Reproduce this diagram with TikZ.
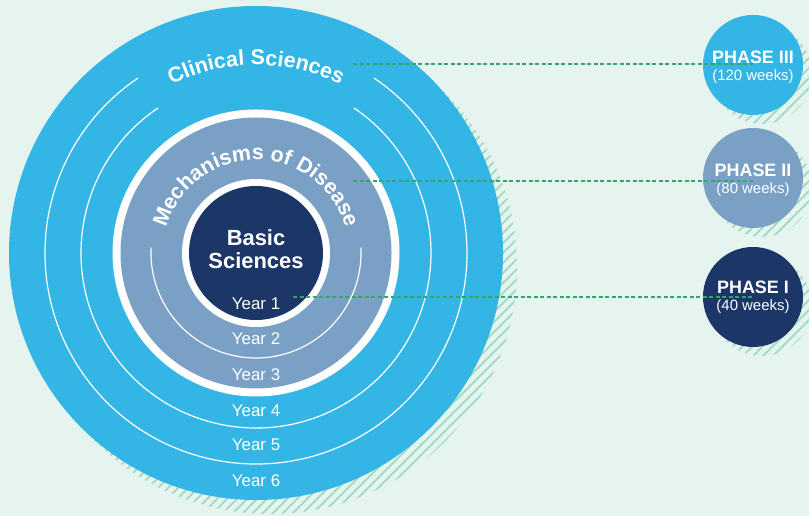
\documentclass[tikz,border=0pt]{standalone}
\usepackage{fontspec}
\setmainfont{Liberation Sans}
\usetikzlibrary{decorations.text}
\definecolor{bg}{HTML}{E5F4EF}
\definecolor{cblue}{HTML}{33B5E5}
\definecolor{cgray}{HTML}{7AA0C6}
\definecolor{cnavy}{HTML}{1B3667}
\definecolor{hatchgreen}{HTML}{A3DCC6}
\definecolor{dashgreen}{HTML}{37A56A}
\begin{document}
\begin{tikzpicture}[x=1bp,y=1bp,
  thinarc/.style={white, line width=1.2bp},
  hatchline/.style={hatchgreen, line width=1.8bp},
  dashline/.style={dashgreen, line width=1.1bp, dash pattern=on 4bp off 2.5bp},
  yearlbl/.style={text=white, inner sep=0pt, font=\fontsize{17}{17}\selectfont},
  phasebox/.style={circle, minimum size=100bp, inner sep=0pt},
  phasetitle/.style={text=white, inner sep=0pt, font=\bfseries\fontsize{18}{18}\selectfont},
  phaseweeks/.style={text=white, inner sep=0pt, font=\fontsize{15}{15}\selectfont},
]
\fill[bg] (0,0) rectangle (809,516);
\useasboundingbox (0,0) rectangle (809,516);
\coordinate (C) at (256,263);

% hatched shadows
\begin{scope}
  \clip ([shift={(14,-14)}]C) circle[radius=247bp];
  \foreach \i in {-360,-350,...,400} \draw[hatchline] (\i,0) -- ++(560,560);
\end{scope}
\foreach \yy in {451,338,219}{
  \begin{scope}
    \clip (762,\yy-9) circle[radius=50bp];
    \foreach \i in {-100,-90,...,120} \draw[hatchline] (762+\i,\yy-80) -- ++(160,160);
  \end{scope}
}

% concentric circles
\fill[cblue] (C) circle[radius=247bp];
\draw[thinarc] ([shift={(124:211bp)}]C) arc[start angle=124, end angle=416, radius=211bp];
\draw[thinarc] ([shift={(124:175bp)}]C) arc[start angle=124, end angle=416, radius=175bp];
\fill[white] (C) circle[radius=143.5bp];
\fill[cgray] (C) circle[radius=135.5bp];
\draw[thinarc] ([shift={(177:105bp)}]C) arc[start angle=177, end angle=363, radius=105bp];
\fill[white] (C) circle[radius=74bp];
\fill[cnavy] (C) circle[radius=67bp];

% curved titles
\path[decorate, decoration={text along path, text align=center, text color=white,
  text={|\bfseries\fontsize{21.5}{22}\selectfont|Clinical Sciences}}]
  ([shift={(160:188bp)}]C) arc[start angle=160, end angle=20, radius=188bp];
\path[decorate, decoration={text along path, text align=center, text color=white,
  text={|\bfseries\fontsize{21.5}{22}\selectfont|Mechanisms of Disease}}]
  ([shift={(180:93bp)}]C) arc[start angle=180, end angle=0, radius=93bp];

\node[text=white, align=center, font=\bfseries\fontsize{22}{23}\selectfont] (basic) at (256,267) {Basic\\Sciences};

% year labels
\node[yearlbl] (y1) at (256,212) {Year 1};
\node[yearlbl] (y2) at (256,177) {Year 2};
\node[yearlbl] (y3) at (256,141) {Year 3};
\node[yearlbl] (y4) at (256,105) {Year 4};
\node[yearlbl] (y5) at (256,71) {Year 5};
\node[yearlbl] (y6) at (256,35) {Year 6};

% phase circles
\node[phasebox, fill=cblue] (p3) at (753,451) {};
\node[phasebox, fill=cgray] (p2) at (753,338) {};
\node[phasebox, fill=cnavy] (p1) at (753,219) {};

% dashed connectors
\coordinate (d3) at (353,452);
\coordinate (d2) at (353,335);
\coordinate (d1) at (293,219);
\draw[dashline] (d3) -- (d3 -| p3.center);
\draw[dashline] (d2) -- (d2 -| p2.center);
\draw[dashline] (d1) -- (d1 -| p1.center);

\node[phasetitle] (p3t) at ([yshift=8bp]p3.center) {PHASE III};
\node[phaseweeks] (p3w) at ([yshift=-12bp]p3.center) {(120 weeks)};
\node[phasetitle] (p2t) at ([yshift=8bp]p2.center) {PHASE II};
\node[phaseweeks] (p2w) at ([yshift=-12bp]p2.center) {(80 weeks)};
\node[phasetitle] (p1t) at ([yshift=10bp]p1.center) {PHASE I};
\node[phaseweeks] (p1w) at ([yshift=-10bp]p1.center) {(40 weeks)};
\end{tikzpicture}
\end{document}
